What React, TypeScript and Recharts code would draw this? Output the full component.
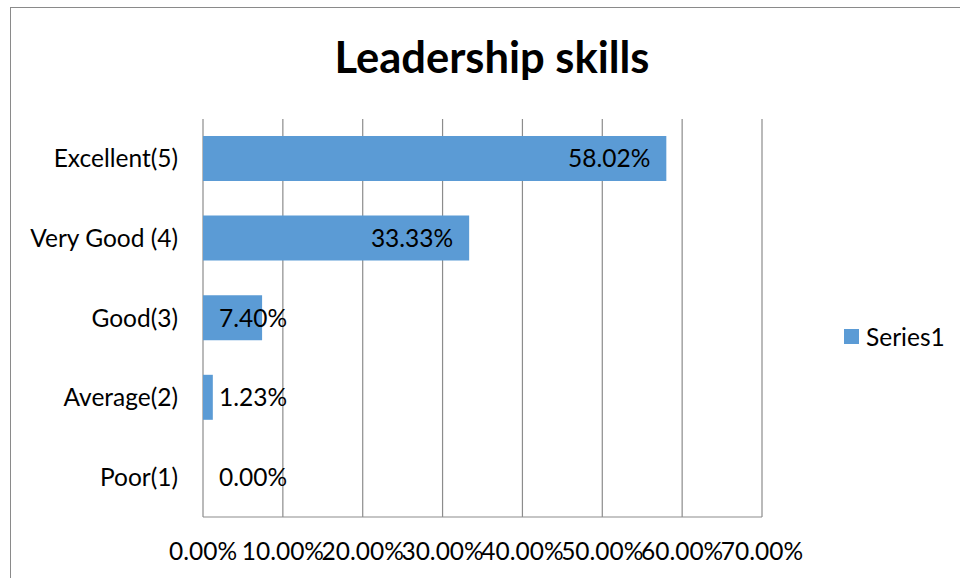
import { BarChart, Bar, XAxis, YAxis, CartesianGrid, LabelList } from "recharts";

const categories = ["Excellent(5)", "Very Good (4)", "Good(3)", "Average(2)", "Poor(1)"];
const values = [58.02, 33.33, 7.4, 1.23, 0];
const xTicks = [0, 10, 20, 30, 40, 50, 60, 70];
const seriesName = "Series1";
const title = "Leadership skills";

const data = categories.map((name, i) => ({ name, value: values[i] }));

const FONT = "Lato, 'Open Sans', sans-serif";
const BLUE = "#5B9BD5";
const GRID = "#8C8C8C";
const FS = 24.5;

const fmt = (v: number) => `${v.toFixed(2)}%`;

function ValueLabel(props: any) {
  const { x, y, width, height, value } = props;
  const cy = y + height / 2;
  const inside = width > 115;
  return (
    <text
      x={inside ? x + width - 16 : x + 16}
      y={cy}
      dy="0.36em"
      textAnchor={inside ? "end" : "start"}
      fontSize={FS}
      fill="#000"
    >
      {fmt(value)}
    </text>
  );
}

export default function App() {
  return (
    <div style={{ position: "absolute", left: 0, top: 0, width: 960, height: 578, overflow: "hidden", background: "#fff", fontFamily: FONT }}>
      <div style={{ position: "absolute", left: 10, top: 7, width: 980, height: 600, border: "1.5px solid #8a8a8a" }} />
      <div style={{ position: "absolute", left: 0, width: 984, top: 30, textAlign: "center", fontSize: 43.5, fontWeight: 700, lineHeight: "52px", color: "#000" }}>
        {title}
      </div>
      <div style={{ position: "absolute", left: 0, top: 0 }}>
        <BarChart
          width={960}
          height={578}
          data={data}
          layout="vertical"
          margin={{ top: 119, right: 198, bottom: 0, left: 10 }}
        >
          <CartesianGrid horizontal={false} stroke={GRID} strokeWidth={1.2} />
          <XAxis
            type="number"
            domain={[0, 70]}
            ticks={xTicks}
            tickFormatter={fmt}
            interval={0}
            height={61}
            tickSize={0}
            tickMargin={26}
            axisLine={{ stroke: GRID, strokeWidth: 1.2 }}
            tickLine={false}
            tick={{ fontSize: FS, fill: "#000" }}
          />
          <YAxis
            type="category"
            dataKey="name"
            width={193}
            tickSize={0}
            tickMargin={25}
            axisLine={false}
            tickLine={false}
            tick={{ fontSize: FS, fill: "#000" }}
          />
          <Bar dataKey="value" name={seriesName} fill={BLUE} barSize={45} minPointSize={0.01} isAnimationActive={false}>
            <LabelList dataKey="value" content={<ValueLabel />} />
          </Bar>
        </BarChart>
      </div>
      <div style={{ position: "absolute", left: 844, top: 322, display: "flex", alignItems: "center", fontSize: FS, color: "#000" }}>
        <span style={{ display: "inline-block", width: 15, height: 15, background: BLUE, marginRight: 7 }} />
        <span>{seriesName}</span>
      </div>
    </div>
  );
}
